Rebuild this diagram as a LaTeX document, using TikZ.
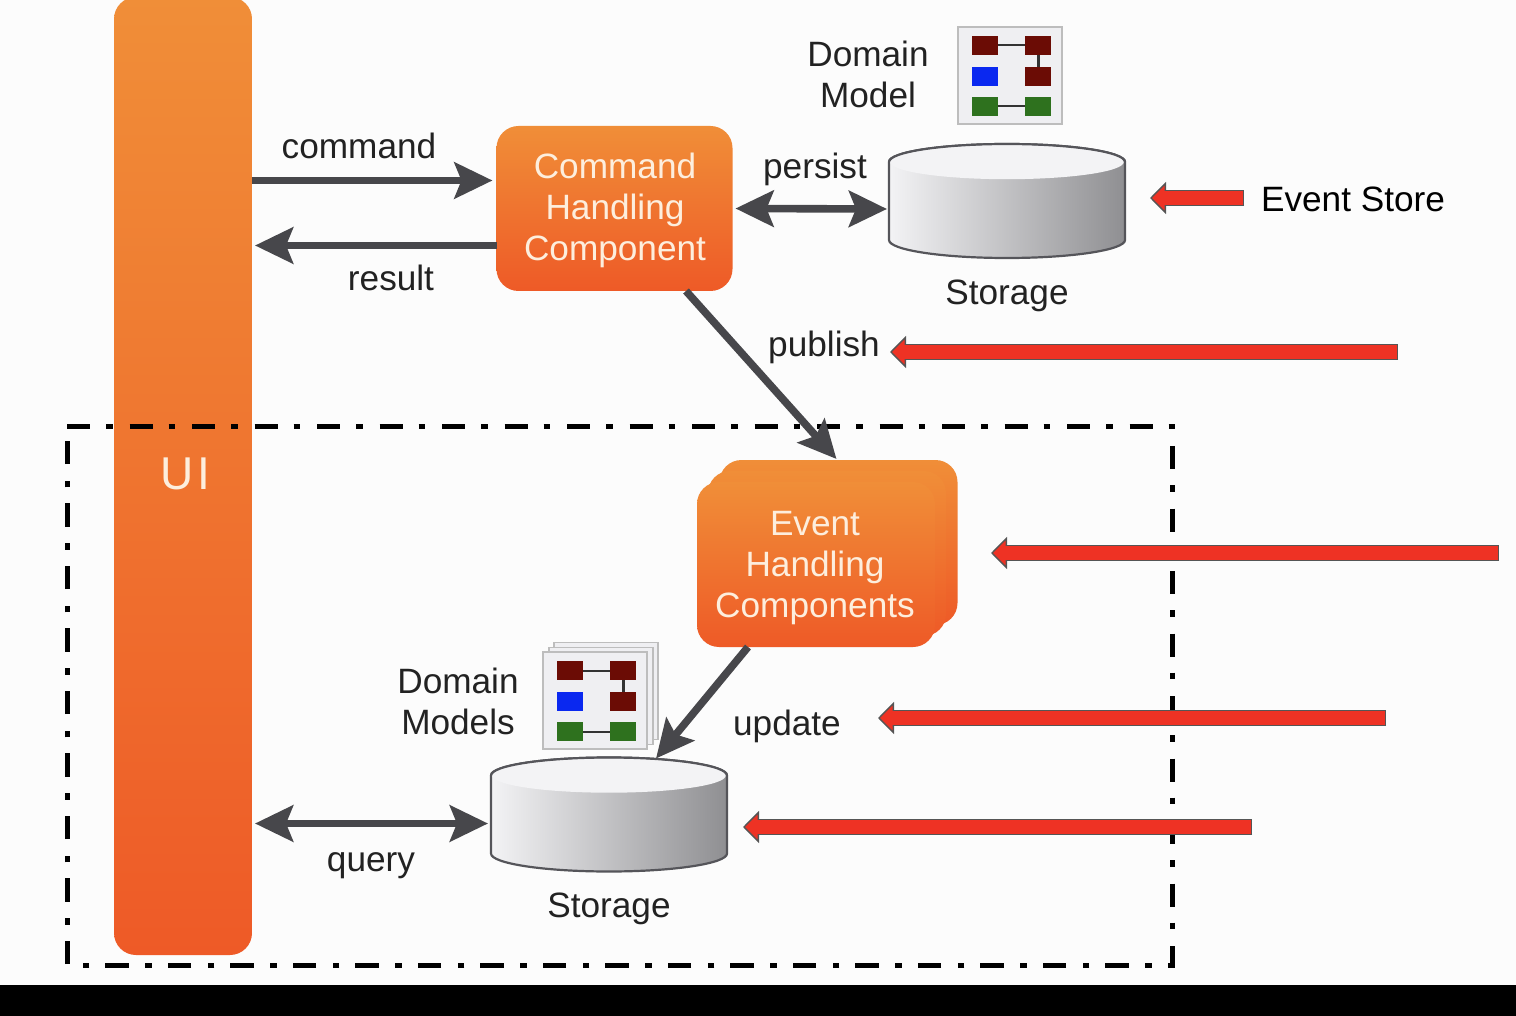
\documentclass[tikz,border=0pt]{standalone}
\usepackage{fontspec}
\setmainfont{Liberation Sans}
\usetikzlibrary{arrows.meta,calc}
\definecolor{orT}{HTML}{F08E38}
\definecolor{orB}{HTML}{EE5A27}
\definecolor{txtW}{HTML}{FDEEDD}
\definecolor{txtD}{HTML}{222222}
\definecolor{arrD}{HTML}{47474B}
\definecolor{redF}{HTML}{EE3224}
\definecolor{redD}{HTML}{555555}
\definecolor{iconF}{HTML}{EFEFF2}
\definecolor{iconD}{HTML}{BDBDBD}
\definecolor{mred}{HTML}{6B0C05}
\definecolor{mblue}{HTML}{0A28F0}
\definecolor{mgreen}{HTML}{2E711E}
\definecolor{drumL}{HTML}{F3F3F5}
\definecolor{drumR}{HTML}{8F8F92}
\definecolor{drumD}{HTML}{55555A}
\tikzset{
  x=0.5pt,y=-0.5pt,
  every node/.style={inner sep=0pt,outer sep=0pt},
  lbl/.style={text=txtD,font=\fontsize{17.6}{20.5}\selectfont,align=center},
  orbox/.style={rounded corners=11pt,top color=orT,bottom color=orB,draw=none,text=txtW,
    font=\fontsize{17.6}{20.5}\selectfont,align=center},
  darr/.style={draw=arrD,line width=3.8pt,-{Stealth[length=19pt,width=18pt,inset=3.5pt]}},
  ddarr/.style={draw=arrD,line width=3.8pt,{Stealth[length=19pt,width=18pt,inset=3.5pt]}-{Stealth[length=19pt,width=18pt,inset=3.5pt]}},
  redout/.style={draw=redD,line width=8.2pt,-{Triangle[length=8pt,width=16pt,fill=redF,color=redD,line width=.7pt]}},
  redin/.style={draw=redF,line width=6.8pt},
  drumbox/.style={minimum width=118pt,minimum height=57pt,draw=none},
  drumside/.style={draw=drumD,line width=1.1pt,left color=drumL,right color=drumR},
  drumtop/.style={fill=drumL,draw=none},
  drumrim/.style={draw=drumD,line width=1.1pt},
  iconbox/.style={fill=iconF,draw=iconD,line width=.8pt,minimum width=52pt,minimum height=48.5pt},
  cell/.style={minimum width=13.3pt,minimum height=9.2pt,draw=none},
  cellline/.style={draw=black!80,line width=1pt},
  chain/.style={draw=black,line width=2.5pt,dash pattern=on 11.6pt off 8pt on 3.2pt off 8.45pt},
}
\newcommand\drumshape[2]{%
  \node[drumbox] (#1) at (#2) {};
  \path[drumside] ([yshift=-9pt]#1.north west) -- ([yshift=9pt]#1.south west)
     arc[start angle=180,end angle=360,x radius=59pt,y radius=9pt]
     -- ([yshift=-9pt]#1.north east)
     arc[start angle=0,end angle=180,x radius=59pt,y radius=9pt] -- cycle;
  \path[drumtop] ([yshift=-9pt]#1.north) ellipse[x radius=58.4pt,y radius=8.6pt];
  \path[drumrim] ([yshift=-9pt]#1.north east)
     arc[start angle=0,end angle=180,x radius=59pt,y radius=9pt];
}
\newcommand\modelicon[3]{%
  \begin{scope}[shift={(#2,#3)}]
    \node[iconbox] (#1) at (52,48.5) {};
    \node[cell,fill=mred] (#1a) at (27,18.5) {};
    \node[cell,fill=mred] (#1b) at (80,18.5) {};
    \node[cell,fill=mblue] (#1c) at (27,49.5) {};
    \node[cell,fill=mred] (#1d) at (80,49.5) {};
    \node[cell,fill=mgreen] (#1e) at (27,79.5) {};
    \node[cell,fill=mgreen] (#1f) at (80,79.5) {};
    \draw[cellline] (#1a) -- (#1b);
    \draw[cellline,line width=1.5pt] (#1b) -- (#1d);
    \draw[cellline] (#1e) -- (#1f);
  \end{scope}
}
\newcommand\redarrow[4]{% name, tip x, y, end x
  \coordinate (#1tip) at (#2,#3);
  \coordinate (#1end) at (#4,#3);
  \draw[redout] (#1end) -- (#1tip);
  \draw[redin] ([xshift=-.7pt]#1end) -- ([xshift=6.5pt]#1tip);
}
\begin{document}
\begin{tikzpicture}
\useasboundingbox (0,0) rectangle (1516,1016);
\fill[white!99!black] (0,0) rectangle (1516,1016);
\fill[black] (0,985) rectangle (1516,1016);

% UI column
\node[orbox,minimum width=69pt,minimum height=479pt] (ui) at (183,476) {};
\node[text=txtW,font=\fontsize{23}{26}\selectfont] (uilabel) at (185,474) {U\kern2pt I};

% dash-dot boundary
\draw[chain] (67,426) -- (1172,426) -- (1172,965) -- (67,965) -- cycle;

% command handler
\node[orbox,minimum width=118pt,minimum height=82.5pt] (chc) at (614.5,208.5) {};
\node[text=txtW,font=\fontsize{17.6}{20.5}\selectfont,align=center] (chclabel) at (615,210) {Command\\Handling\\Component};

% event handlers stack
\node[orbox,minimum width=119pt,minimum height=82.5pt] (ehb) at (838.5,542.5) {};
\node[orbox,minimum width=119pt,minimum height=82.5pt] (ehm) at (827,553.5) {};
\node[orbox,minimum width=119pt,minimum height=82.5pt] (ehf) at (816,564.5) {};
\node[text=txtW,font=\fontsize{17.6}{20.5}\selectfont,align=center] (ehlabel) at (815,568) {Event\\Handling\\Components};

% storages
\drumshape{upper}{1007,201}
\drumshape{lower}{609,814.5}
\node[lbl] (uplabel) at (1007,296) {Storage};
\node[lbl] (lolabel) at (609,909) {Storage};

% domain model icons
\modelicon{dm}{958}{27}
\node[lbl] (dmlabel) at (868,74.5) {Domain\\Model};
\node[fill=iconF,draw=iconD,line width=.8pt,minimum width=52pt,minimum height=48.5pt] (pageb) at (606,691) {};
\node[fill=iconF,draw=iconD,line width=.8pt,minimum width=52pt,minimum height=48.5pt] (pagem) at (601,696) {};
\modelicon{dms}{543}{652}
\node[lbl] (dmslabel) at (458,701.5) {Domain\\Models};

% connectors
\coordinate (cmdend) at ([yshift=14pt]chc.west);
\coordinate (resstart) at ([yshift=-18.5pt]chc.west);
\draw[darr] (ui.east |- cmdend) -- ([xshift=-2pt]cmdend);
\draw[darr] (resstart) -- ([xshift=1.5pt]ui.east |- resstart);
\draw[ddarr] ([xshift=1.5pt]chc.east) -- ([yshift=-4pt,xshift=-1pt]upper.west);
\draw[darr] ([xshift=35.75pt]chc.south) -- ([yshift=.5pt,xshift=-1pt]ehb.north);
\draw[darr] ([xshift=-34pt]ehf.south) -- ([xshift=23.5pt,yshift=-.5pt]lower.north);
\coordinate (qend) at ([yshift=-4.5pt,xshift=-1.5pt]lower.west);
\draw[ddarr] ([xshift=1.5pt]ui.east |- qend) -- (qend);

% connector labels
\node[lbl] (lcommand) at (359,146) {command};
\node[lbl] (lresult) at (391,278) {result};
\node[lbl] (lpersist) at (815,169) {persist};
\node[lbl] (lpublish) at (824,347) {publish};
\node[lbl] (lupdate) at (787,726) {update};
\node[lbl] (lquery) at (371,866) {query};

% annotation arrows
\redarrow{ra}{1150}{198}{1244}
\node[lbl,text=black] (estore) at (1353,199) {Event Store};
\redarrow{rb}{890}{352}{1398}
\redarrow{rc}{991}{553}{1499}
\redarrow{rd}{878}{718}{1386}
\redarrow{re}{743}{827}{1252}
\end{tikzpicture}
\end{document}
